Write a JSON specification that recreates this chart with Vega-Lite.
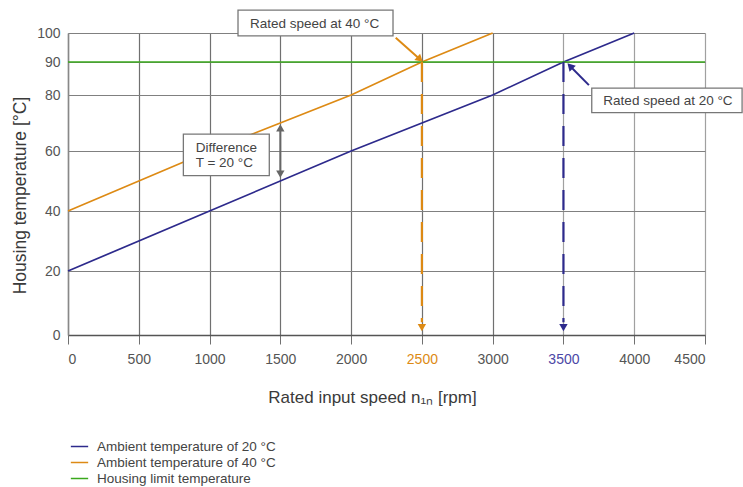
{
  "$schema": "https://vega.github.io/schema/vega-lite/v6.json",
  "width": 637,
  "height": 302,
  "autosize": "none",
  "padding": {"left": 68, "top": 33, "right": 38, "bottom": 152},
  "background": "white",
  "config": {
    "font": "Liberation Sans",
    "view": {"stroke": null}
  },
  "encoding": {
    "x": {
      "field": "rpm",
      "type": "quantitative",
      "scale": {"domain": [0, 4500], "nice": false, "zero": false},
      "axis": {
        "values": [0, 500, 1000, 1500, 2000, 2500, 3000, 3500, 4000, 4500],
        "format": "d",
        "grid": true,
        "gridColor": {"condition": {"test": "datum.value >= 3500", "value": "#a0a0a0"}, "value": "#707070"},
        "gridWidth": 1.2,
        "domainColor": "#555555",
        "domainWidth": 1.5,
        "tickColor": "#707070",
        "tickSize": 9,
        "labelPadding": 8,
        "labelFontSize": 14,
        "labelColor": {"condition": [{"test": "datum.value == 2500", "value": "#dd8a14"}, {"test": "datum.value == 3500", "value": "#4b47a6"}], "value": "#555555"},
        "title": "Rated input speed n₁ₙ [rpm]",
        "titleFontSize": 17,
        "titleFontWeight": "normal",
        "titleColor": "#3a3a3a",
        "titleX": 304,
        "titleY": 62,
        "titleAlign": "center",
        "titleBaseline": "middle"
      }
    },
    "y": {
      "field": "temp",
      "type": "quantitative",
      "scale": {"domain": [0, 20, 40, 60, 80, 90, 100], "range": [302, 238, 178, 118, 62, 29, 0], "nice": false, "zero": false},
      "axis": {
        "values": [0, 20, 40, 60, 80, 90, 100],
        "grid": true,
        "gridColor": "#808080",
        "gridWidth": 1.2,
        "domainColor": "#888888",
        "domainWidth": 1.5,
        "ticks": false,
        "labelPadding": 8,
        "labelFontSize": 14,
        "labelColor": "#555555",
        "title": "Housing temperature [°C]",
        "titleFontSize": 17.5,
        "titleFontWeight": "normal",
        "titleColor": "#3a3a3a",
        "titleAngle": -90,
        "titleX": -48,
        "titleY": 162,
        "titleAlign": "center",
        "titleBaseline": "middle"
      }
    }
  },
  "layer": [
    {
      "data": {"values": [
        {"series": "Ambient temperature of 20 °C", "rpm": 0, "temp": 20},
        {"series": "Ambient temperature of 20 °C", "rpm": 1000, "temp": 40},
        {"series": "Ambient temperature of 20 °C", "rpm": 2000, "temp": 60},
        {"series": "Ambient temperature of 20 °C", "rpm": 3000, "temp": 80},
        {"series": "Ambient temperature of 20 °C", "rpm": 3500, "temp": 90},
        {"series": "Ambient temperature of 20 °C", "rpm": 4000, "temp": 100},
        {"series": "Ambient temperature of 40 °C", "rpm": 0, "temp": 40},
        {"series": "Ambient temperature of 40 °C", "rpm": 1000, "temp": 60},
        {"series": "Ambient temperature of 40 °C", "rpm": 2000, "temp": 80},
        {"series": "Ambient temperature of 40 °C", "rpm": 2500, "temp": 90},
        {"series": "Ambient temperature of 40 °C", "rpm": 3000, "temp": 100},
        {"series": "Housing limit temperature", "rpm": 0, "temp": 90},
        {"series": "Housing limit temperature", "rpm": 4500, "temp": 90}
      ]},
      "mark": {"type": "line", "strokeWidth": 1.7},
      "encoding": {
        "color": {
          "field": "series",
          "type": "nominal",
          "scale": {
            "domain": ["Ambient temperature of 20 °C", "Ambient temperature of 40 °C", "Housing limit temperature"],
            "range": ["#2d2a8c", "#dd8a14", "#3aa81c"]
          },
          "legend": {
            "orient": "none",
            "legendX": 2,
            "legendY": 404,
            "title": null,
            "padding": 0,
            "symbolType": "stroke",
            "symbolSize": 300,
            "symbolStrokeWidth": 1.5,
            "labelFontSize": 13.5,
            "labelColor": "#444444",
            "labelLimit": 400,
            "labelOffset": 8,
            "rowPadding": 0
          }
        }
      }
    },
    {
      "data": {"values": [{"rpm": 2500, "temp": 90, "temp2": 4}]},
      "mark": {"type": "rule", "color": "#dd8a14", "strokeWidth": 2.2, "strokeDash": [20, 12]},
      "encoding": {"y2": {"field": "temp2"}}
    },
    {
      "data": {"values": [{"rpm": 3500, "temp": 90, "temp2": 4}]},
      "mark": {"type": "rule", "color": "#2d2a8c", "strokeWidth": 2.2, "strokeDash": [20, 12]},
      "encoding": {"y2": {"field": "temp2"}}
    },
    {
      "data": {"values": [{"rpm": 2500, "temp": 2.3}]},
      "mark": {"type": "point", "shape": "triangle-down", "filled": true, "opacity": 1, "size": 70, "color": "#dd8a14"}
    },
    {
      "data": {"values": [{"rpm": 3500, "temp": 2.3}]},
      "mark": {"type": "point", "shape": "triangle-down", "filled": true, "opacity": 1, "size": 70, "color": "#2d2a8c"}
    },
    {
      "data": {"values": [
        {"rpm": 1201, "rpm2": 2296, "temp": 107.9, "temp2": 99.0},
        {"rpm": 3700, "rpm2": 4762, "temp": 82.1, "temp2": 73.7},
        {"rpm": 815, "rpm2": 1422, "temp": 66.0, "temp2": 51.8}
      ]},
      "mark": {"type": "rect", "fill": "white", "stroke": "#777777", "strokeWidth": 1.3},
      "encoding": {"x2": {"field": "rpm2"}, "y2": {"field": "temp2"}}
    },
    {
      "data": {"values": [
        {"rpm": 1286, "temp": 101.6, "label": "Rated speed at 40 °C"},
        {"rpm": 3782, "temp": 76.4, "label": "Rated speed at 20 °C"},
        {"rpm": 902, "temp": 59.6, "label": "Difference"},
        {"rpm": 902, "temp": 54.8, "label": "T = 20 °C"}
      ]},
      "mark": {"type": "text", "align": "left", "baseline": "alphabetic", "fontSize": 13.5, "color": "#444444"},
      "encoding": {"text": {"field": "label"}}
    },
    {
      "data": {"values": [{"rpm": 2315, "temp": 98.4}, {"rpm": 2480, "temp": 91.2}]},
      "mark": {"type": "line", "color": "#dd8a14", "strokeWidth": 2}
    },
    {
      "data": {"values": [{"rpm": 2480, "temp": 91.2}]},
      "mark": {"type": "point", "shape": "triangle", "angle": 132, "filled": true, "opacity": 1, "size": 75, "color": "#dd8a14"}
    },
    {
      "data": {"values": [{"rpm": 3553, "temp": 88.5}, {"rpm": 3680, "temp": 83.0}]},
      "mark": {"type": "line", "color": "#2d2a8c", "strokeWidth": 2}
    },
    {
      "data": {"values": [{"rpm": 3553, "temp": 88.5}]},
      "mark": {"type": "point", "shape": "triangle", "angle": 316, "filled": true, "opacity": 1, "size": 75, "color": "#2d2a8c"}
    },
    {
      "data": {"values": [{"rpm": 1500, "temp": 68.3, "temp2": 52.3}]},
      "mark": {"type": "rule", "color": "#666666", "strokeWidth": 2},
      "encoding": {"y2": {"field": "temp2"}}
    },
    {
      "data": {"values": [{"rpm": 1500, "temp": 68.3}]},
      "mark": {"type": "point", "shape": "triangle-up", "filled": true, "opacity": 1, "size": 70, "color": "#666666"}
    },
    {
      "data": {"values": [{"rpm": 1500, "temp": 52.3}]},
      "mark": {"type": "point", "shape": "triangle-down", "filled": true, "opacity": 1, "size": 70, "color": "#666666"}
    }
  ]
}
